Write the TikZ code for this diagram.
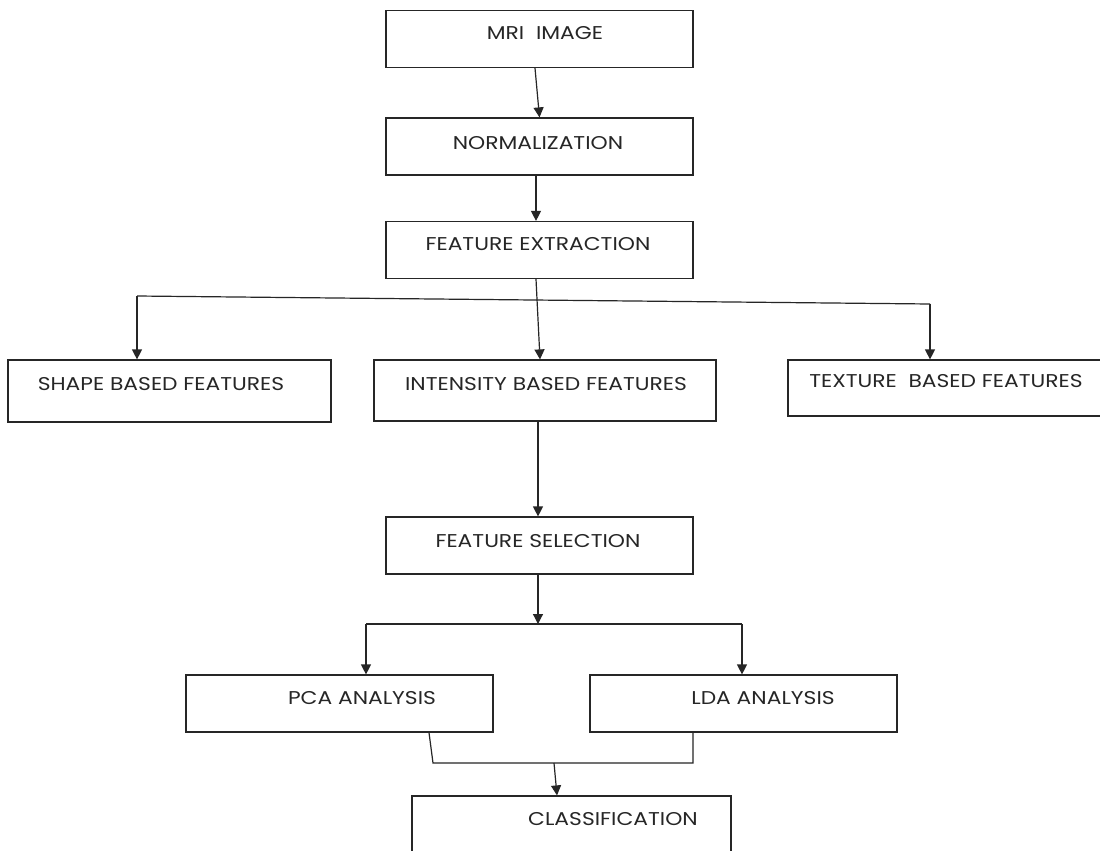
\documentclass[tikz,border=0pt]{standalone}
\usepackage{fontspec}
\setmainfont{Poppins}
\usetikzlibrary{arrows.meta}
\newcommand{\wtext}[1]{\scalebox{1.18}[1]{#1}}
\begin{document}
\begin{tikzpicture}[x=1pt,y=-1pt,
  box/.style={draw=black!85, line width=1.2pt, inner sep=0pt, minimum width=307pt, minimum height=57pt},
  lbl/.style={anchor=base, inner sep=0pt, font=\fontsize{18.5}{20}\selectfont, text=black!85},
  conn/.style={draw=black!85, line width=1.2pt},
  arr/.style={conn, -{Triangle[width=10pt,length=10pt]}}]
\useasboundingbox (0,0) rectangle (1100,851);
\clip (0,0) rectangle (1100,851);
\fill[white] (0,0) rectangle (1100,851);
% boxes
\node[box] (mri) at (539.5,39) {};
\node[box] (norm) at (539.5,146.5) {};
\node[box] (fe) at (539.5,250) {};
\node[box, minimum width=323pt, minimum height=62pt] (shape) at (169.5,391) {};
\node[box, minimum width=342pt, minimum height=61pt] (inten) at (545,390.5) {};
\node[box, minimum width=322pt, minimum height=56pt] (tex) at (949,388) {};
\node[box] (fs) at (539.5,545.5) {};
\node[box] (pca) at (339.5,703.5) {};
\node[box] (lda) at (743.5,703.5) {};
\node[box, minimum width=319pt, minimum height=80pt] (cls) at (571.5,836) {};
% labels
\node[lbl] (mri-t) at (545,40) {\wtext{MRI\ \ IMAGE}};
\node[lbl] (norm-t) at (538,149) {\wtext{NORMALIZATION}};
\node[lbl] (fe-t) at (538,250) {\wtext{FEATURE EXTRACTION}};
\node[lbl] (shape-t) at (161,390) {\wtext{SHAPE BASED FEATURES}};
\node[lbl] (inten-t) at (546,390) {\wtext{INTENSITY BASED FEATURES}};
\node[lbl] (tex-t) at (946,387) {\wtext{TEXTURE\ \ BASED FEATURES}};
\node[lbl] (fs-t) at (538,547) {\wtext{FEATURE SELECTION}};
\node[lbl] (pca-t) at (362,704) {\wtext{PCA ANALYSIS}};
\node[lbl] (lda-t) at (763,704) {\wtext{LDA ANALYSIS}};
\node[lbl] (cls-t) at (613,825) {\wtext{CLASSIFICATION}};
% connectors
\draw[arr] ([xshift=-4.5pt]mri.south) -- (norm.north);
\draw[arr] ([xshift=-3.5pt]norm.south) -- ([xshift=-3.5pt]fe.north);
\draw[arr] ([xshift=-3.5pt]fe.south) -- ([xshift=-5pt]inten.north);
\coordinate (hl) at (137,296);
\coordinate (hr) at (930,304);
\draw[conn] (hl) -- (hr);
\draw[arr] (hl) -- (hl |- shape.north);
\draw[arr] (hr) -- (hr |- tex.north);
\draw[arr] ([xshift=-1.5pt]fs.north |- inten.south) -- ([xshift=-1.5pt]fs.north);
\coordinate (sp) at (538,624);
\coordinate (spl) at (366,624);
\coordinate (spr) at (742,624);
\draw[arr] ([xshift=-1.5pt]fs.south) -- (sp);
\draw[conn] (spl) -- (spr);
\draw[arr] (spl) -- (spl |- pca.north);
\draw[arr] (spr) -- (spr |- lda.north);
\coordinate (ml) at (433,763);
\coordinate (mr) at (693,763);
\coordinate (mm) at (554,763);
\draw[conn] ([xshift=-4pt]ml |- pca.south) -- (ml) -- (mr) -- (mr |- lda.south);
\draw[arr] (mm) -- ([xshift=-14.5pt]cls.north);
\end{tikzpicture}
\end{document}
